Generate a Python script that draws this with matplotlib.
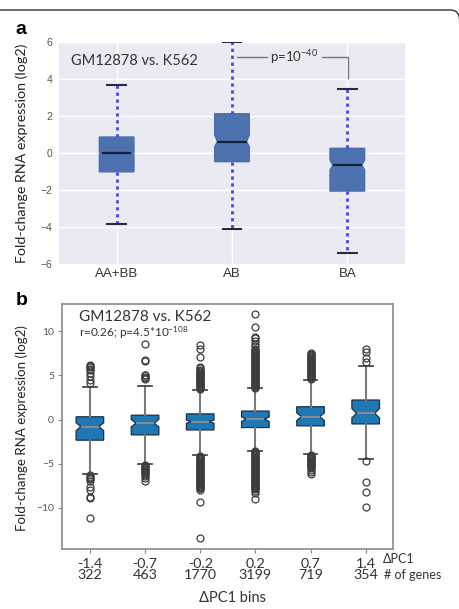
import matplotlib
matplotlib.use("Agg")
import matplotlib.pyplot as plt
from matplotlib.patches import PathPatch
from matplotlib.path import Path

plt.rcParams["mathtext.fontset"] = "custom"
plt.rcParams["mathtext.rm"] = "Lato"
plt.rcParams["mathtext.it"] = "Lato:italic"
plt.rcParams["mathtext.bf"] = "Lato:bold"
plt.rcParams["mathtext.default"] = "rm"

# ---------------- data: panel a ----------------
a_categories = ["AA+BB", "AB", "BA"]
a_med = [0.0, 0.63, -0.65]
a_q1 = [-1.0, -0.45, -2.04]
a_q3 = [0.88, 2.14, 0.27]
a_whislo = [-3.82, -4.09, -5.4]
a_whishi = [3.72, 6.0, 3.5]
a_cilo = [-0.05, 0.36, -0.9]
a_cihi = [0.05, 0.99, -0.36]
a_title = "GM12878 vs. K562"
a_pval = "p=10$^{-40}$"

# ---------------- data: panel b ----------------
b_bins = ["-1.4", "-0.7", "-0.2", "0.2", "0.7", "1.4"]
b_ngenes = ["322", "463", "1770", "3199", "719", "354"]
b_med = [-0.79, -0.41, -0.22, 0.05, 0.34, 0.70]
b_q1 = [-2.33, -1.73, -1.17, -0.9, -0.71, -0.49]
b_q3 = [0.32, 0.5, 0.65, 0.97, 1.46, 2.22]
b_whislo = [-6.2, -5.03, -4.05, -3.53, -3.9, -4.49]
b_whishi = [3.74, 3.8, 3.38, 3.55, 4.5, 6.07]
b_cilo = [-1.25, -0.82, -0.42, -0.2, -0.1, 0.2]
b_cihi = [-0.35, 0.02, -0.05, 0.3, 0.76, 1.26]
b_fliers_hi = [
    [4.2, 4.5, 4.98, 5.3, 5.6, 5.75, 5.93, 6.05, 6.19],
    [4.55, 4.7, 4.85, 5.0, 5.1, 6.6, 6.75, 8.55],
    [3.5, 3.6, 3.7, 3.8, 3.9, 4.0, 4.1, 4.2, 4.3, 4.4, 4.5, 4.6, 4.7, 4.8,
     4.9, 5.0, 5.1, 5.2, 5.3, 5.4, 5.5, 5.6, 5.8, 5.95, 7.05, 8.05, 8.5],
    [3.6, 3.7, 3.8, 3.9, 4.0, 4.1, 4.2, 4.3, 4.4, 4.5, 4.6, 4.7, 4.8, 4.9,
     5.0, 5.1, 5.2, 5.3, 5.4, 5.5, 5.6, 5.7, 5.8, 5.9, 6.0, 6.1, 6.2, 6.3,
     6.4, 6.5, 6.6, 6.7, 6.8, 6.9, 7.0, 7.1, 7.2, 7.3, 7.4, 7.5, 7.6, 7.7,
     7.8, 7.9, 8.0, 8.3, 8.6, 8.9, 9.2, 9.4, 10.5, 11.95],
    [4.6, 4.7, 4.8, 4.9, 5.0, 5.1, 5.2, 5.3, 5.4, 5.5, 5.6, 5.7, 5.8, 5.9,
     6.0, 6.1, 6.2, 6.3, 6.4, 6.5, 6.6, 6.7, 6.8, 6.9, 7.0, 7.1, 7.2, 7.3,
     7.4, 7.5],
    [6.55, 6.95, 7.7, 7.95],
]
b_fliers_lo = [
    [-6.3, -6.45, -6.6, -6.75, -7.0, -7.6, -7.95, -8.75, -8.9, -11.2],
    [-5.2, -5.3, -5.4, -5.5, -5.6, -5.7, -5.8, -5.9, -6.0, -6.2, -6.4, -6.6,
     -7.0],
    [-4.1, -4.2, -4.3, -4.4, -4.5, -4.6, -4.7, -4.8, -4.9, -5.0, -5.1, -5.2,
     -5.3, -5.4, -5.5, -5.6, -5.7, -5.8, -5.9, -6.0, -6.1, -6.2, -6.3, -6.4,
     -6.5, -6.6, -6.7, -6.8, -6.9, -7.0, -7.1, -7.2, -7.3, -7.4, -7.5, -7.6,
     -7.7, -7.8, -7.95, -9.36, -13.4],
    [-3.6, -3.7, -3.8, -3.9, -4.0, -4.1, -4.2, -4.3, -4.4, -4.5, -4.6, -4.7,
     -4.8, -4.9, -5.0, -5.1, -5.2, -5.3, -5.4, -5.5, -5.6, -5.7, -5.8, -5.9,
     -6.0, -6.1, -6.2, -6.3, -6.4, -6.5, -6.6, -6.7, -6.8, -6.9, -7.0, -7.1,
     -7.2, -7.3, -7.4, -7.5, -7.6, -7.7, -7.8, -7.9, -8.1, -8.3, -9.0],
    [-4.0, -4.1, -4.2, -4.3, -4.4, -4.5, -4.6, -4.7, -4.8, -4.9, -5.0, -5.1,
     -5.2, -5.3, -5.4, -5.5, -5.7, -5.9, -6.15],
    [-4.65, -7.1, -8.15, -9.85],
]
b_title = "GM12878 vs. K562"
b_stat = "r=0.26; p=4.5*10$^{-108}$"
ylab = "Fold-change RNA expression (log2)"

TXT = ["Lato", "DejaVu Sans"]
TICK = ["Liberation Sans", "DejaVu Sans"]


def renotch(bp, stats, positions, width, frac):
    """Adjust notch depth (frac = half-width of the notch waist / box width)."""
    for patch, med, st, pos in zip(bp["boxes"], bp["medians"], stats, positions):
        v = patch.get_path().vertices.copy()
        v[3, 0] = pos + width * frac
        v[8, 0] = pos - width * frac
        patch.set_path(Path(v, patch.get_path().codes))
        med.set_xdata([pos - width * frac, pos + width * frac])


fig = plt.figure(figsize=(4.59, 6.09), dpi=100)

# frame line at top (right corner rounds off at the figure edge)
frame = Path([(-0.05, 5.99), (4.50, 5.99), (4.595, 5.99), (4.595, 5.895)],
             [Path.MOVETO, Path.LINETO, Path.CURVE3, Path.CURVE3])
fig.add_artist(PathPatch(frame, transform=fig.dpi_scale_trans, fill=False,
                         edgecolor="#333333", linewidth=1.0))

# ---------------- panel a ----------------
axa = fig.add_axes([0.1285, 0.566, 0.7538, 0.3645])
axa.set_facecolor("#EAEAF2")
for s in axa.spines.values():
    s.set_visible(False)
a_stats = []
for i in range(len(a_categories)):
    a_stats.append(dict(med=a_med[i], q1=a_q1[i], q3=a_q3[i],
                        whislo=a_whislo[i], whishi=a_whishi[i],
                        cilo=a_cilo[i], cihi=a_cihi[i], fliers=[],
                        label=a_categories[i]))
apos = [1, 2, 3]
wa = 0.3
bpa = axa.bxp(a_stats, positions=apos, widths=wa, shownotches=True,
              patch_artist=True, showfliers=False, capwidths=0.16,
              boxprops=dict(facecolor="#4C72B0", edgecolor="#4a6eaa",
                            linewidth=1.0),
              medianprops=dict(color="#16223a", linewidth=1.6),
              whiskerprops=dict(color="#4b45f0", linewidth=2.0,
                                linestyle=(0, (1.2, 1.3))),
              capprops=dict(color="#2a2a3a", linewidth=1.5))
renotch(bpa, a_stats, apos, wa, 0.42)
axa.set_xlim(0.5, 3.5)
axa.set_ylim(-6, 6)
axa.set_yticks([-6, -4, -2, 0, 2, 4, 6])
axa.grid(True, color="white", linewidth=1.0)
axa.set_axisbelow(True)
axa.tick_params(axis="both", length=0)
axa.tick_params(axis="y", labelsize=7.5, labelcolor="#555555", pad=5)
axa.tick_params(axis="x", labelsize=9.5, labelcolor="#333333", pad=3)
for t in axa.get_xticklabels() + axa.get_yticklabels():
    t.set_family(TICK)
axa.text(0.6, 5.0, a_title, fontsize=10.5, color="#333333", family=TXT,
         va="center", ha="left")
# p-value bracket
axa.plot([2.04, 2.30], [5.22, 5.22], color="#777777", lw=1.0)
axa.plot([2.78, 3.01, 3.01], [5.22, 5.22, 4.05], color="#777777", lw=1.0)
axa.text(2.54, 5.22, a_pval, fontsize=9.5, color="#333333", family=TXT,
         ha="center", va="center")
axa.set_ylabel(ylab, fontsize=10.3, family=TXT, color="#222222")
axa.yaxis.set_label_coords(-0.09, 0.5)
fig.text(21 / 459, 1 - 30 / 609, "a", fontsize=14, fontweight="bold",
         family=TICK, ha="center", va="center")

# ---------------- panel b ----------------
axb = fig.add_axes([0.1357, 0.098, 0.7211, 0.4028])
b_stats = []
for i in range(len(b_bins)):
    b_stats.append(dict(med=b_med[i], q1=b_q1[i], q3=b_q3[i],
                        whislo=b_whislo[i], whishi=b_whishi[i],
                        cilo=b_cilo[i], cihi=b_cihi[i],
                        fliers=b_fliers_hi[i] + b_fliers_lo[i],
                        label=b_bins[i] + "\n" + b_ngenes[i]))
bpos = [1, 2, 3, 4, 5, 6]
wb = 0.5
bpb = axb.bxp(b_stats, positions=bpos, widths=wb, shownotches=True,
              patch_artist=True, showfliers=True,
              boxprops=dict(facecolor="#1f77b4", edgecolor="#1b2f45",
                            linewidth=0.9),
              medianprops=dict(color="#8c8c8c", linewidth=1.4),
              whiskerprops=dict(color="#7a7a7a", linewidth=1.5),
              capprops=dict(color="#4a4a4a", linewidth=1.3),
              flierprops=dict(marker="o", markersize=5, markerfacecolor="none",
                              markeredgecolor="#3c3c3c", markeredgewidth=0.9,
                              linestyle="none"))
renotch(bpb, b_stats, bpos, wb, 0.33)
axb.set_xlim(0.5, 6.5)
axb.set_ylim(-14.7, 13.1)
axb.set_yticks([-10, -5, 0, 5, 10])
for s in axb.spines.values():
    s.set_color("#8a8a8a")
    s.set_linewidth(1.2)
axb.tick_params(axis="y", labelsize=7.5, labelcolor="#555555", length=3,
                color="#8a8a8a", pad=3)
axb.tick_params(axis="x", labelsize=10.3, labelcolor="#333333", length=3,
                color="#8a8a8a", pad=3)
for t in axb.get_xticklabels():
    t.set_family(TXT)
    t.set_linespacing(0.95)
for t in axb.get_yticklabels():
    t.set_family(TXT)
axb.text(0.81, 11.66, b_title, fontsize=11, color="#333333", family=TXT,
         va="center", ha="left")
axb.text(0.81, 9.85, b_stat, fontsize=8.5, color="#333333", family=TXT,
         va="center", ha="left")
axb.set_ylabel(ylab, fontsize=9.6, family=TXT, color="#222222")
axb.yaxis.set_label_coords(-0.104, 0.493)
axb.set_xlabel("ΔPC1 bins", fontsize=10.5, family=TXT, color="#333333")
axb.xaxis.set_label_coords(0.515, -0.168)
fig.text(383 / 459, 1 - 559 / 609, "ΔPC1", fontsize=9, family=TXT,
         color="#333333", ha="left", va="center")
fig.text(384 / 459, 1 - 575 / 609, "# of genes", fontsize=9, family=TXT,
         color="#333333", ha="left", va="center")
fig.text(22 / 459, 1 - 301 / 609, "b", fontsize=14, fontweight="bold",
         family=TICK, ha="center", va="center")

fig.savefig("out.png", dpi=100)
